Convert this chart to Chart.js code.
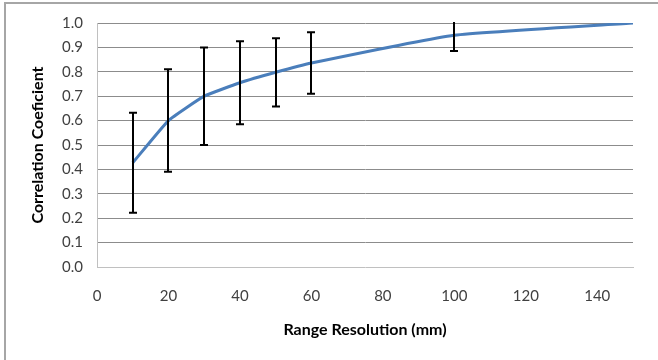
<!DOCTYPE html>
<html>
<head>
<meta charset="utf-8">
<script src="https://cdn.jsdelivr.net/npm/chart.js@4/dist/chart.umd.min.js"></script>
<style>
  html, body { margin: 0; padding: 0; background: #fff; }
  #wrap { width: 658px; height: 360px; position: relative; }
</style>
</head>
<body>
<div id="wrap"><canvas id="chart" width="658" height="360"></canvas></div>
<script>
const resolution = [10, 20, 30, 40, 50, 60, 100, 150];
const correlation = [0.427, 0.60, 0.70, 0.755, 0.798, 0.836, 0.95, 1.0];
const errorSize = [0.205, 0.21, 0.20, 0.17, 0.14, 0.126, 0.065, null];
const xTicks = [0, 20, 40, 60, 80, 100, 120, 140];

// outer frame of the chart box (only top and left are visible)
const frame = {
  id: 'frame',
  beforeDraw(chart) {
    const c = chart.ctx;
    c.save();
    c.strokeStyle = '#a6a6a6';
    c.lineWidth = 2;
    c.beginPath();
    c.moveTo(5, 360);
    c.lineTo(5, 3);
    c.lineTo(658, 3);
    c.stroke();
    c.restore();
  }
};

// vertical error bars with caps, drawn through the scales
const errorBars = {
  id: 'errorBars',
  afterDatasetsDraw(chart) {
    const c = chart.ctx;
    const xs = chart.scales.x, ys = chart.scales.y;
    const area = chart.chartArea;
    c.save();
    c.beginPath();
    c.rect(area.left, area.top - 1, area.right - area.left, area.bottom - area.top + 2);
    c.clip();
    c.strokeStyle = '#000';
    c.lineWidth = 2;
    resolution.forEach((r, i) => {
      const e = errorSize[i];
      if (e == null) return;
      const x = Math.round(xs.getPixelForValue(r));
      const top = ys.getPixelForValue(correlation[i] + e);
      const bot = ys.getPixelForValue(correlation[i] - e);
      c.beginPath();
      c.moveTo(x, top); c.lineTo(x, bot);
      c.moveTo(x - 4, top); c.lineTo(x + 4, top);
      c.moveTo(x - 4, bot); c.lineTo(x + 4, bot);
      c.stroke();
    });
    c.restore();
  }
};

Chart.defaults.font.family = 'Lato, "Open Sans", sans-serif';
Chart.defaults.color = '#404040';

new Chart(document.getElementById('chart'), {
  type: 'line',
  data: {
    datasets: [{
      data: resolution.map((r, i) => ({ x: r, y: correlation[i] })),
      borderColor: '#4a7ebb',
      borderWidth: 3,
      pointRadius: 0,
      tension: 0.12,
      fill: false
    }]
  },
  options: {
    responsive: false,
    animation: false,
    layout: { padding: { top: 22, right: 25, left: 0, bottom: 0 } },
    plugins: { legend: { display: false }, tooltip: { enabled: false } },
    scales: {
      x: {
        type: 'linear',
        min: 0, max: 150,
        afterBuildTicks: axis => { axis.ticks = xTicks.map(v => ({ value: v })); },
        afterFit: axis => { axis.height = 93; },
        grid: { display: false, drawTicks: false },
        border: { color: '#c0c0c0', width: 1 },
        ticks: { padding: 20, font: { size: 15 }, color: '#404040', maxRotation: 0 },
        title: {
          display: true, text: 'Range Resolution (mm)',
          font: { size: 16, weight: 'bold' }, color: '#000',
          padding: { top: 0, bottom: 21 }
        }
      },
      y: {
        min: 0, max: 1,
        afterFit: axis => { axis.width = 97; },
        grid: { color: ctx => ctx.tick.value === 0 ? 'rgba(0,0,0,0)' : '#8c8c8c', drawTicks: false },
        border: { color: '#c0c0c0', width: 1 },
        ticks: { stepSize: 0.1, padding: 14, font: { size: 15 }, color: '#404040',
                 callback: v => v.toFixed(1) },
        title: {
          display: true, text: 'Correlation Coeficient',
          font: { size: 16, weight: 'bold' }, color: '#000',
          padding: { top: 28, bottom: 0 }
        }
      }
    }
  },
  plugins: [frame, errorBars]
});
</script>
</body>
</html>
